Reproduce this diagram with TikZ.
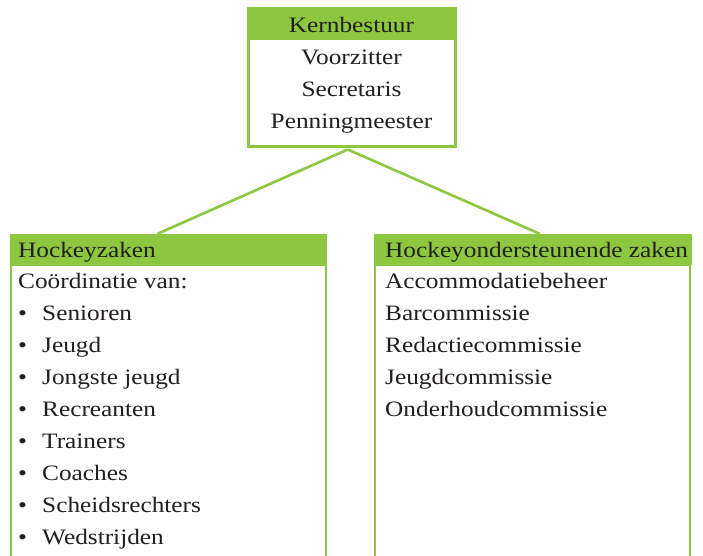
\documentclass[tikz,border=0pt]{standalone}
\usepackage{fontspec}
\setmainfont{Liberation Serif}[FakeStretch=1.15]
\definecolor{kgreen}{RGB}{141,198,63}
\definecolor{ktext}{RGB}{35,31,32}
\tikzset{
  hdr/.style={fill=kgreen, draw=none, inner sep=0pt, rectangle},
  bodybox/.style={draw=kgreen, fill=white, inner sep=0pt, rectangle},
  txt/.style={anchor=base west, inner sep=0pt, text=ktext, font=\fontsize{22}{26}\selectfont},
  ctxt/.style={anchor=base, inner sep=0pt, text=ktext, font=\fontsize{22}{26}\selectfont},
  conn/.style={draw=kgreen, line width=2.6pt}
}
\begin{document}
\begin{tikzpicture}[x=1pt,y=-1pt]
\useasboundingbox (0,0) rectangle (703,555);
\clip (0,0) rectangle (703,555);
\fill[white] (0,0) rectangle (703,555);

% top box
\node[bodybox, line width=3pt, minimum width=206.5pt, minimum height=108pt] (kernbody) at (351.75,92.5) {};
\node[hdr, minimum width=209.5pt, minimum height=31.5pt] (kern) at (352,22.5) {};
\node[ctxt] (kernt) at (351.5,32) {Kernbestuur};
\node[ctxt] (voor) at (351.5,64) {Voorzitter};
\node[ctxt] (secr) at (351.5,96) {Secretaris};
\node[ctxt] (penn) at (351.5,128) {Penningmeester};

% left box
\node[bodybox, line width=2.2pt, minimum width=315pt, minimum height=360pt] (hzbody) at (168.5,445) {};
\node[hdr, minimum width=317pt, minimum height=31pt] (hz) at (168.5,249.5) {};
\node[txt] (hzt) at (18,257) {Hockeyzaken};
\node[txt] (coord) at (18,288) {Coördinatie van:};
\foreach \i/\t in {1/Senioren,2/Jeugd,3/Jongste jeugd,4/Recreanten,5/Trainers,6/Coaches,7/Scheidsrechters,8/Wedstrijden}{
  \node[txt] (b\i) at (18,288+32*\i) {\textbullet};
  \node[txt] (l\i) at (42,288+32*\i) {\t};
}

% right box
\node[bodybox, line width=2.2pt, minimum width=315pt, minimum height=360pt] (hobody) at (532.7,445) {};
\node[hdr, minimum width=318pt, minimum height=31pt] (ho) at (532.7,249.5) {};
\node[txt] (hot) at (385,257) {Hockeyondersteunende zaken};
\foreach \i/\t in {0/Accommodatiebeheer,1/Barcommissie,2/Redactiecommissie,3/Jeugdcommissie,4/Onderhoudcommissie}{
  \node[txt] (r\i) at (385,288+32*\i) {\t};
}

% connectors
\coordinate (apex) at ([xshift=-4pt,yshift=-1.5pt]kernbody.south);
\draw[conn] (apex) -- ([xshift=-11pt]hz.north);
\draw[conn] (apex) -- ([xshift=7pt]ho.north);
\end{tikzpicture}
\end{document}
